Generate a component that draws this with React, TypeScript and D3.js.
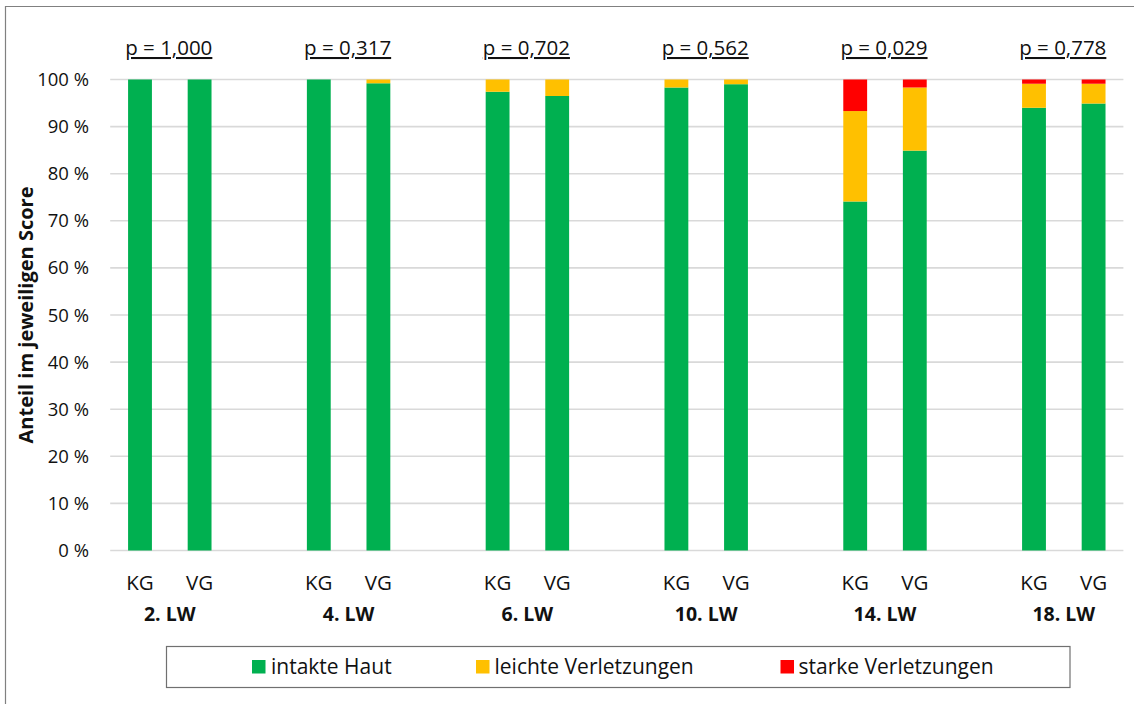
import React from "react";
import * as d3 from "d3";

const groups = ["2. LW", "4. LW", "6. LW", "10. LW", "14. LW", "18. LW"];
const pLabels = ["p = 1,000", "p = 0,317", "p = 0,702", "p = 0,562", "p = 0,029", "p = 0,778"];
const subgroups = ["KG", "VG"];
// values per bar, order: 2.LW KG, 2.LW VG, 4.LW KG, ...
const intakteHaut = [100, 100, 100, 99.2, 97.4, 96.5, 98.3, 99.0, 74.1, 84.9, 94.0, 94.9];
const leichteVerletzungen = [0, 0, 0, 0.8, 2.6, 3.5, 1.7, 1.0, 19.2, 13.4, 5.1, 4.2];
const starkeVerletzungen = [0, 0, 0, 0, 0, 0, 0, 0, 6.7, 1.7, 0.9, 0.9];
const seriesNames = ["intakte Haut", "leichte Verletzungen", "starke Verletzungen"];
const seriesColors = ["#00B050", "#FFC000", "#FF0000"];
const yTicks = [0, 10, 20, 30, 40, 50, 60, 70, 80, 90, 100];

const FONT = "'Open Sans', sans-serif";

export default function App() {
  const W = 1134, H = 704;
  const left = 110.2, right = 1123.4, top = 79.5, bottom = 550.5;

  // slots: KG, VG, gap per group (no trailing gap)
  const slots: string[] = [];
  groups.forEach((g, i) => {
    subgroups.forEach((s) => slots.push(`${g}|${s}`));
    if (i < groups.length - 1) slots.push(`gap${i}`);
  });
  const x = d3.scaleBand<string>().domain(slots).range([left, right]).padding(0);
  const y = d3.scaleLinear().domain([0, 100]).range([bottom, top]);
  const barW = x.bandwidth() * 0.4;

  const rows = groups.flatMap((g, gi) =>
    subgroups.map((s, si) => {
      const idx = gi * 2 + si;
      return {
        key: `${g}|${s}`,
        [seriesNames[0]]: intakteHaut[idx],
        [seriesNames[1]]: leichteVerletzungen[idx],
        [seriesNames[2]]: starkeVerletzungen[idx],
      } as any;
    })
  );
  const stacked = d3.stack<any>().keys(seriesNames)(rows);

  const center = (k: string) => (x(k) as number) + x.bandwidth() / 2;
  const groupCenter = (g: string) => (center(`${g}|KG`) + center(`${g}|VG`)) / 2;

  const legendItems = [
    { x: 252, tx: 271 },
    { x: 476, tx: 494.5 },
    { x: 780.5, tx: 798.5 },
  ];

  return (
    <svg width={W} height={H} style={{ position: "absolute", left: 0, top: 0, background: "#fff" }}>
      <rect x={0} y={0} width={W} height={H} fill="#fff" />
      {/* outer frame */}
      <line x1={5.5} x2={5.5} y1={6} y2={H} stroke="#808080" strokeWidth={1.2} />
      <line x1={5} x2={W} y1={6.5} y2={6.5} stroke="#808080" strokeWidth={1.2} />

      {/* gridlines */}
      {yTicks.map((t) => (
        <line key={t} x1={left} x2={right} y1={y(t)} y2={y(t)} stroke="#d9d9d9" strokeWidth={1.6} />
      ))}
      {/* y tick labels */}
      {yTicks.map((t) => (
        <text key={"l" + t} x={89} y={y(t) + 6.5} textAnchor="end" fontFamily={FONT} fontSize={18.5} fill="#111">
          {`${t}\u00a0%`}
        </text>
      ))}

      {/* bars */}
      {stacked.map((layer, li) => (
        <g key={layer.key} fill={seriesColors[li]}>
          {layer.map((d: any) =>
            d[1] - d[0] > 0 ? (
              <rect
                key={d.data.key}
                x={center(d.data.key) - barW / 2}
                width={barW}
                y={y(d[1])}
                height={y(d[0]) - y(d[1])}
              />
            ) : null
          )}
        </g>
      ))}

      {/* x labels */}
      {groups.map((g) =>
        subgroups.map((s) => (
          <text key={g + s} x={center(`${g}|${s}`)} y={589.5} textAnchor="middle" fontFamily={FONT} fontSize={20.5} fill="#111">
            {s}
          </text>
        ))
      )}
      {groups.map((g) => (
        <text key={"g" + g} x={groupCenter(g)} y={620.5} textAnchor="middle" fontFamily={FONT} fontSize={19.5} fontWeight="bold" fill="#111">
          {g}
        </text>
      ))}

      {/* p labels */}
      {groups.map((g, i) => (
        <text
          key={"p" + g}
          x={groupCenter(g) - 1}
          y={55}
          textAnchor="middle"
          fontFamily={FONT}
          fontSize={20.5}
          fill="#111"
          style={{ textDecoration: "underline" }}
        >
          {pLabels[i]}
        </text>
      ))}

      {/* y axis title */}
      <text
        transform={`translate(33, 315) rotate(-90)`}
        textAnchor="middle"
        fontFamily={FONT}
        fontSize={20}
        fontWeight="bold"
        fill="#111"
      >
        Anteil im jeweiligen Score
      </text>

      {/* legend */}
      <rect x={166.5} y={646.5} width={903.5} height={41} fill="#fff" stroke="#707070" strokeWidth={1.2} />
      {seriesNames.map((n, i) => (
        <g key={n}>
          <rect x={legendItems[i].x} y={660} width={13.5} height={13.5} fill={seriesColors[i]} />
          <text x={legendItems[i].tx} y={673.5} fontFamily={FONT} fontSize={21} fill="#111">
            {n}
          </text>
        </g>
      ))}
    </svg>
  );
}
